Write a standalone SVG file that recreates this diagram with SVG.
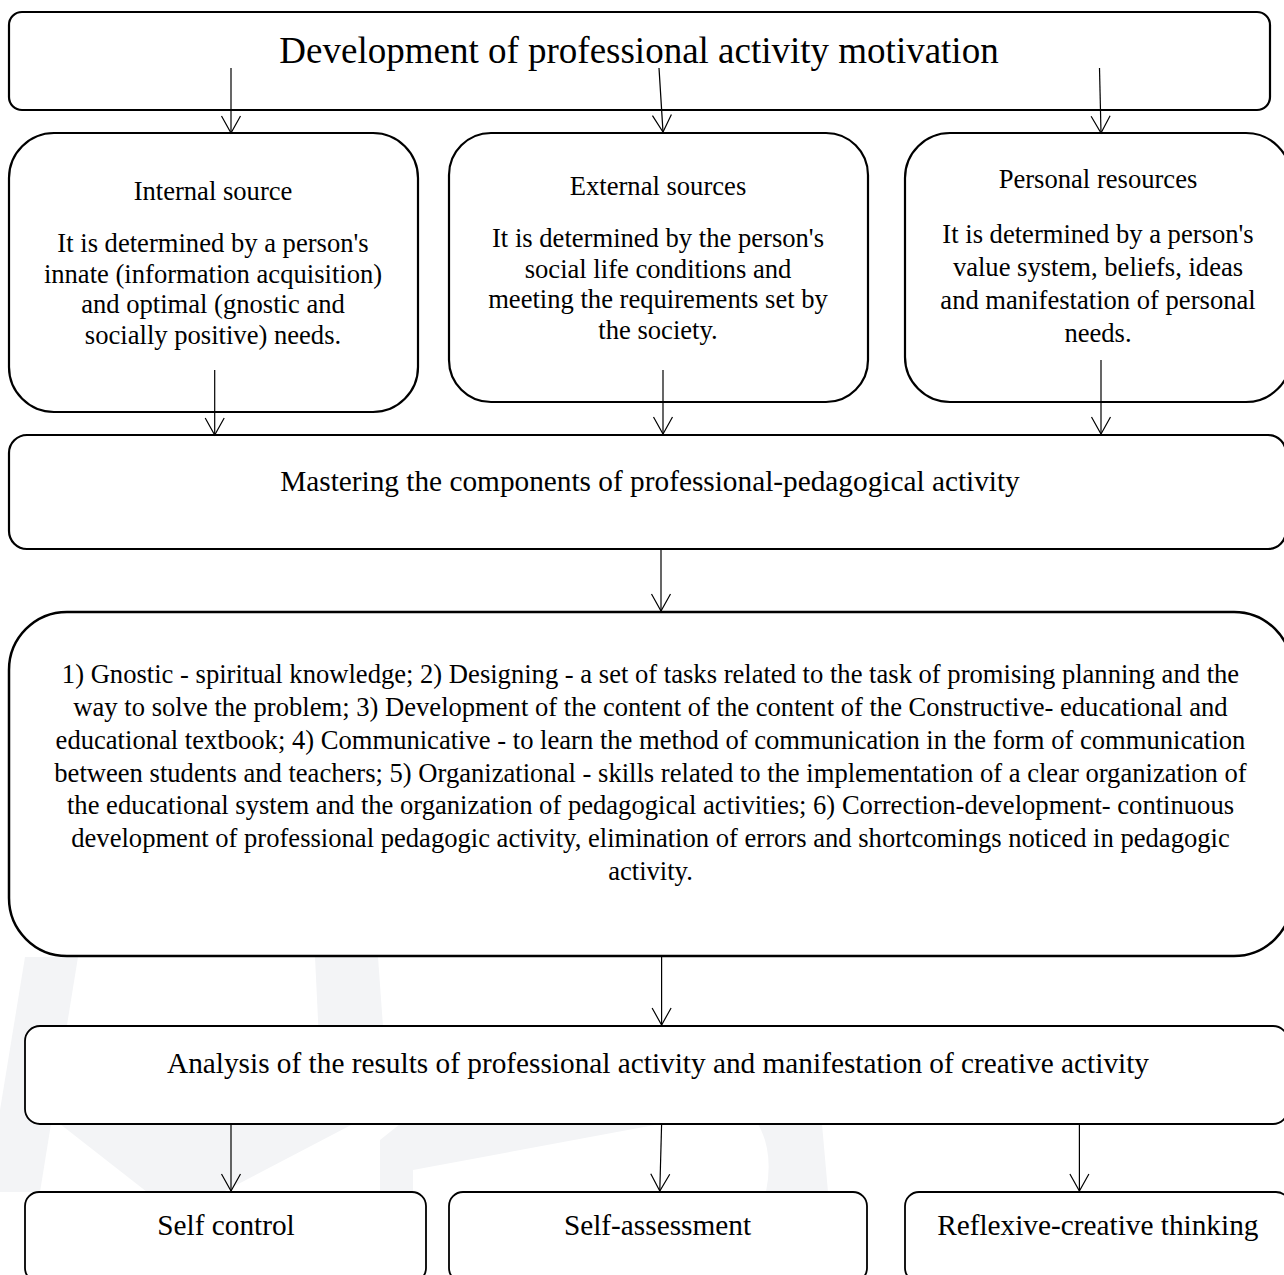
<svg xmlns="http://www.w3.org/2000/svg" width="1284" height="1275" viewBox="0 0 1284 1275">
  <style>
    .box { fill: #ffffff; stroke: #000000; stroke-width: 2.2; }
    .thin { stroke-width: 1.8; }
    .t { font-family: "Liberation Serif", "Times New Roman", serif; fill: #000000; text-anchor: middle; }
    .title { font-size: 37px; }
    .s { font-size: 26.6px; }
    .m { font-size: 29.3px; }
    .conn { stroke: #000000; stroke-width: 1.2; fill: none; marker-end: url(#arrow); }
    .wm { fill: #f3f4f6; stroke: none; }
  </style>
  <defs>
    <marker id="arrow" markerUnits="userSpaceOnUse" markerWidth="22" markerHeight="24" viewBox="-19 -12 22 24" refX="0" refY="0" orient="auto" overflow="visible">
      <path d="M-17,-9.5 L0,0 L-17,9.5" fill="none" stroke="#000000" stroke-width="1.2"/>
    </marker>
  </defs>
  <rect x="0" y="0" width="1284" height="1275" fill="#ffffff"/>

  <g id="watermark">
    <polygon class="wm" points="25,957 78,957 40,1192 0,1192 0,1110"/>
    <polygon class="wm" points="60,1124 353,1124 223,1192 147,1192"/>
    <polygon class="wm" points="315,957 378,957 390,1124 323,1124"/>
    <polygon class="wm" points="400,1124 660,1124 413,1170 413,1192 380,1192 380,1140"/>
    <path class="wm" d="M758,1124 Q774,1152 766,1192 L828,1192 L822,1124 Z"/>
  </g>

  <g id="node-top">
    <rect class="box" x="9" y="12" width="1261" height="98" rx="13"/>
    <text class="t title" x="639" y="63">Development of professional activity motivation</text>
  </g>

  <g id="node-internal">
    <rect class="box" x="9" y="133" width="409" height="279" rx="45"/>
    <text class="t s" x="213" y="200">Internal source</text>
    <text class="t s" x="213" y="252">It is determined by a person's</text>
    <text class="t s" x="213" y="282.5">innate (information acquisition)</text>
    <text class="t s" x="213" y="313">and optimal (gnostic and</text>
    <text class="t s" x="213" y="343.5">socially positive) needs.</text>
  </g>

  <g id="node-external">
    <rect class="box" x="449" y="133" width="419" height="269" rx="42"/>
    <text class="t s" x="658" y="195">External sources</text>
    <text class="t s" x="658" y="246.7">It is determined by the person's</text>
    <text class="t s" x="658" y="277.7">social life conditions and</text>
    <text class="t s" x="658" y="308.3">meeting the requirements set by</text>
    <text class="t s" x="658" y="338.5">the society.</text>
  </g>

  <g id="node-personal">
    <rect class="box" x="905" y="133" width="386" height="269" rx="45"/>
    <text class="t s" x="1098" y="188.3">Personal resources</text>
    <text class="t s" x="1098" y="243.3">It is determined by a person's</text>
    <text class="t s" x="1098" y="276">value system, beliefs, ideas</text>
    <text class="t s" x="1098" y="309.3">and manifestation of personal</text>
    <text class="t s" x="1098" y="341.7">needs.</text>
  </g>

  <g id="node-mastering">
    <rect class="box" x="9" y="435" width="1277" height="114" rx="18"/>
    <text class="t m" x="650" y="491">Mastering the components of professional-pedagogical activity</text>
  </g>

  <g id="node-components">
    <rect class="box" x="9" y="612" width="1283" height="344" rx="58" style="stroke-width:2.5"/>
    <text class="t s" x="650.5" y="683.3">1) Gnostic - spiritual knowledge; 2) Designing - a set of tasks related to the task of promising planning and the</text>
    <text class="t s" x="650.5" y="716">way to solve the problem; 3) Development of the content of the content of the Constructive- educational and</text>
    <text class="t s" x="650.5" y="748.5">educational textbook; 4) Communicative - to learn the method of communication in the form of communication</text>
    <text class="t s" x="650.5" y="781.5">between students and teachers; 5) Organizational - skills related to the implementation of a clear organization of</text>
    <text class="t s" x="650.5" y="814.3">the educational system and the organization of pedagogical activities; 6) Correction-development- continuous</text>
    <text class="t s" x="650.5" y="847">development of professional pedagogic activity, elimination of errors and shortcomings noticed in pedagogic</text>
    <text class="t s" x="650.5" y="880">activity.</text>
  </g>

  <g id="node-analysis">
    <rect class="box thin" x="25" y="1026" width="1263" height="98" rx="15"/>
    <text class="t m" x="658" y="1073.3">Analysis of the results of professional activity and manifestation of creative activity</text>
  </g>

  <g id="node-selfcontrol">
    <rect class="box thin" x="25" y="1192" width="401" height="90" rx="14"/>
    <text class="t m" x="226" y="1235">Self control</text>
  </g>

  <g id="node-selfassessment">
    <rect class="box thin" x="449" y="1192" width="418" height="90" rx="14"/>
    <text class="t m" x="657.5" y="1235">Self-assessment</text>
  </g>

  <g id="node-reflexive">
    <rect class="box thin" x="905" y="1192" width="385" height="90" rx="14"/>
    <text class="t m" x="1097.8" y="1235">Reflexive-creative thinking</text>
  </g>

  <g id="connectors">
    <line class="conn" x1="231" y1="68" x2="231" y2="133"/>
    <line class="conn" x1="659" y1="68" x2="663" y2="132"/>
    <line class="conn" x1="1099.5" y1="68" x2="1101" y2="133"/>
    <line class="conn" x1="214.7" y1="370" x2="214.7" y2="435"/>
    <line class="conn" x1="663" y1="370" x2="663" y2="434"/>
    <line class="conn" x1="1101" y1="360" x2="1101" y2="434"/>
    <line class="conn" x1="661" y1="550" x2="661" y2="611"/>
    <line class="conn" x1="661.6" y1="956" x2="661.6" y2="1025"/>
    <line class="conn" x1="231" y1="1124" x2="231" y2="1191"/>
    <line class="conn" x1="661.6" y1="1124" x2="659.8" y2="1191"/>
    <line class="conn" x1="1079.4" y1="1124" x2="1079.4" y2="1191"/>
  </g>
</svg>
